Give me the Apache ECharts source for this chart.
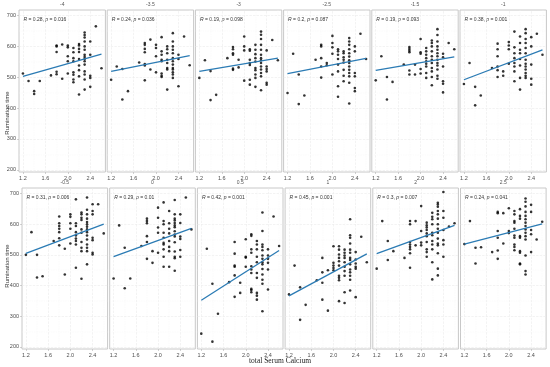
<!DOCTYPE html>
<html><head><meta charset="utf-8">
<script src="https://cdn.jsdelivr.net/npm/echarts@6/dist/echarts.min.js"></script>
<style>html,body{margin:0;padding:0;background:#fff}#c{width:550px;height:367px}</style>
</head><body><div id="c"></div>
<script>
// ---- data ----
const stripLabels = ['-4','-3.5','-3','-2.5','-1.5','-1','-0.5','0','0.5','1','2','2.5'];
const rValues = ['0.28','0.24','0.19','0.2','0.19','0.38','0.31','0.29','0.42','0.45','0.3','0.24'];
const pValues = ['0.016','0.036','0.098','0.087','0.093','0.001','0.006','0.01','0.001','0.001','0.007','0.041'];
const xLevels = [1.2,1.3,1.4,1.5,1.7,1.8,1.9,2.0,2.1,2.2,2.3,2.4,2.5,2.6];
const xTicks = [1.2,1.6,2.0,2.4];
const xMinor = [1.4,1.8,2.2,2.6];
const yTicks = [200,300,400,500,600,700];
const yMinor = [250,350,450,550,650];
const fitX = [1.2,2.6];
const fitStart = [503,519,519,512,522,492,505,494,352,366,504,535];
const fitEnd   = [575,570,562,561,566,589,600,586,514,503,596,601];

const p1 = [[512],[488],[455,446],[488],[506],[603,600,582,518,510],[606,495],[603,597,568,552,512],[595,581,562,552,516,508,493,484],[608,603,592,582,559,538,523,503,444],[645,637,629,616,600,589,573,566,559,552,541,519,509,493,460],[616,573,505,498,469],[665],[529]];
const p2 = [[492],[535],[527,428],[455],[548],[611,605,592,581,543,538,490],[622,525],[605,595,568,516],[630,584,573,557,552,512,505,501],[600,591,578,557,546,530,525,460],[643,616,600,589,578,562,552,541,530,525,516,509,498],[573,559,471],[632],[539]];
const p3 = [[498],[555],[520,426],[443],[562],[598,591,578,573,528,524],[557,532],[632,600,587,489],[591,586,557,546,540,492,476],[605,589,575,562,551,530,523,509,498,469],[648,638,624,605,589,573,562,555,546,535,525,514,503,458],[587,535,527,519,482,476],[621],[555]];
const p4 = [[449],[576],[509,413],[441],[557],[605,600,562,535,499],[546,539],[634,611,597,576,509],[591,584,573,559,541,519,471,437],[584,578,565,557,548,524,505,487],[627,616,605,591,578,567,555,546,535,524,514,503,482,415],[600,584,514,503,465,455],[641],[559]];
const p5 = [[490],[568],[501,428],[485],[541],[598,592,586,581,522,509],[541,509],[624,581,576,527,512],[595,584,573,562,552,544,535,514,498],[619,611,600,584,568,557,546,530,519,501,474],[656,637,616,600,589,578,568,557,546,538,525,505,495],[576,565,535,487,479,451],[611],[591]];
const p6 = [[478],[546],[469,409],[441],[530],[609,591,568,535,523,501],[519,505],[614,603,591,544],[648,597,578,562,546,535,519,487],[632,611,589,578,559,538,498,460],[656,643,624,611,595,578,557,544,535,525,514,505,498],[630,600,541,495,476],[641],[573]];
const p7 = [[500],[574],[500,426],[430],[545],[625,603,594,585,574,554,531],[520,436],[632,624,603,585,537],[681,603,594,574,563,553,545,534,458],[638,632,621,614,583,572,542,523,512,422],[687,647,632,618,607,600,592,583,574,563,550,534,523,512,469],[665,643,632,556,548,507,501],[665],[570]];
const p8 = [[423],[596],[523,391],[423],[529],[618,610,603,561,542,487],[512,474],[654,621,589,572,507],[671,610,600,572,556,539,534,518,494,461],[643,603,585,570,545,526,512,461],[679,632,618,612,604,596,590,577,566,560,541,511,494,489,448],[632,604,560,552,516,494],[687],[583]];
const p9 = [[243],[520],[406,217],[308],[411],[542,504,465,461,433,363],[409,376],[551,494,491,461],[567,562,518,507,463,452,441,389,385,378],[545,534,518,494,476,441,425,376,367,354],[638,578,534,526,515,498,487,476,469,454,436,419,406,316],[518,498,487,474,452,387],[625],[529]];
const p10 = [[371],[465],[394,288],[337],[417],[490,443,409,354],[450,318],[528,474,465,457,450],[528,517,501,490,479,465,432,425,417,349],[517,507,498,490,476,461,447,432,378,343],[616,564,556,537,517,507,490,483,469,452,443,432,419,384],[509,485,472,461,455,362],[559],[476]];
const p11 = [[455],[610],[545,483],[512],[490],[610,600,542,534,526,518,505,458],[610,531],[659,578,540,531],[605,596,589,581,570,561,542,518,509,494],[637,624,616,600,572,564,545,534,518,476,420],[670,664,657,643,632,618,600,585,572,553,537,531,505,455,433],[705,643,621,581,548,534,494],[592],[603]];
const p12 = [[535],[610],[523,472],[525],[509],[640,636,578,556,514,487],[636,537],[652,578,571],[643,632,610,605,585,563,556,534,526,515],[649,627,618,561,556,512,507,472,469],[684,673,658,640,627,616,605,594,583,572,561,550,498,447,436],[663,640,581,567,509],[550],[608]];
const panels = [p1,p2,p3,p4,p5,p6,p7,p8,p9,p10,p11,p12];

// ---- chart ----
const xMin = 1.13, xMax = 2.67, yMin = 193, yMax = 718;
const chart = echarts.init(document.getElementById('c'), null, {renderer:'canvas'});
const grids=[], xAxes=[], yAxes=[], series=[], graphics=[];
const labelColor = '#4d4d4d';
for (let i=0;i<12;i++){
  const row = i<6?0:1, col = i%6;
  const left = row===0 ? 19+88.2*col : 22+87.7*col;
  const width = row===0 ? 86.4 : 85.6;
  const top = row===0 ? 10 : 188;
  const height = row===0 ? 162 : 161;
  grids.push({left, top, width, height, show:true, borderColor:'#c8c8c8', borderWidth:1, backgroundColor:'#fff'});
  xAxes.push({type:'value', gridIndex:i, min:xMin, max:xMax,
    axisLine:{show:false}, splitLine:{show:false},
    axisTick:{show:true, customValues:xTicks, length:2, lineStyle:{color:'#b3b3b3', width:0.6}},
    axisLabel:{customValues:xTicks, fontSize:5.5, color:labelColor, margin:3, fontFamily:'Liberation Sans', formatter:v=>v.toFixed(1)}});
  yAxes.push({type:'value', gridIndex:i, min:yMin, max:yMax,
    axisLine:{show:false}, splitLine:{show:false},
    axisTick:{show:col===0, customValues:yTicks, length:2, lineStyle:{color:'#b3b3b3', width:0.6}},
    axisLabel:{show:col===0, customValues:yTicks, fontSize:5.5, color:labelColor, margin:3, fontFamily:'Liberation Sans'}});
  const pts = [];
  panels[i].forEach((ys,k)=>ys.forEach(y=>pts.push([xLevels[k], y])));
  const ml = [];
  xTicks.forEach(v=>ml.push({xAxis:v, lineStyle:{color:'#ebebeb', width:0.6}}));
  xMinor.forEach(v=>ml.push({xAxis:v, lineStyle:{color:'#f4f4f4', width:0.4}}));
  yTicks.forEach(v=>ml.push({yAxis:v, lineStyle:{color:'#ebebeb', width:0.6}}));
  yMinor.forEach(v=>ml.push({yAxis:v, lineStyle:{color:'#f4f4f4', width:0.4}}));
  series.push({type:'scatter', xAxisIndex:i, yAxisIndex:i, data:pts, symbolSize:2.6,
    itemStyle:{color:'#000'}, z:3, silent:true,
    markLine:{silent:true, symbol:['none','none'], label:{show:false}, animation:false, data:ml, z:1}});
  series.push({type:'line', xAxisIndex:i, yAxisIndex:i, data:[[fitX[0],fitStart[i]],[fitX[1],fitEnd[i]]],
    showSymbol:false, symbol:'none', lineStyle:{color:'#2b7bb4', width:1.3}, z:4, silent:true});
  graphics.push({type:'text', x:left+width/2, y:top-5.5, style:{text:stripLabels[i], fontSize:5, fill:'#555', textAlign:'center', textVerticalAlign:'middle', fontFamily:'Liberation Sans'}});
  graphics.push({type:'text', x:left+4.5, y:top+10, style:{
    text:'{i|R} = '+rValues[i]+', {i|p} = '+pValues[i],
    fontSize:5, fill:'#333', textVerticalAlign:'middle', fontFamily:'Liberation Sans',
    rich:{i:{fontStyle:'italic', fontSize:5, fill:'#333', fontFamily:'Liberation Sans'}}}});
}
graphics.push({type:'text', x:7, y:113, rotation:Math.PI/2, style:{text:'Rumination time', fontSize:6, fill:'#333', textAlign:'center', textVerticalAlign:'middle', fontFamily:'Liberation Sans'}});
graphics.push({type:'text', x:7, y:266, rotation:Math.PI/2, style:{text:'Rumination time', fontSize:6, fill:'#333', textAlign:'center', textVerticalAlign:'middle', fontFamily:'Liberation Sans'}});
graphics.push({type:'text', x:280, y:361, style:{text:'total Serum Calcium', fontSize:7.5, fill:'#222', textAlign:'center', textVerticalAlign:'middle', fontFamily:'Liberation Serif'}});

chart.setOption({animation:false, backgroundColor:'#fff', grid:grids, xAxis:xAxes, yAxis:yAxes, series, graphic:graphics});
</script></body></html>
